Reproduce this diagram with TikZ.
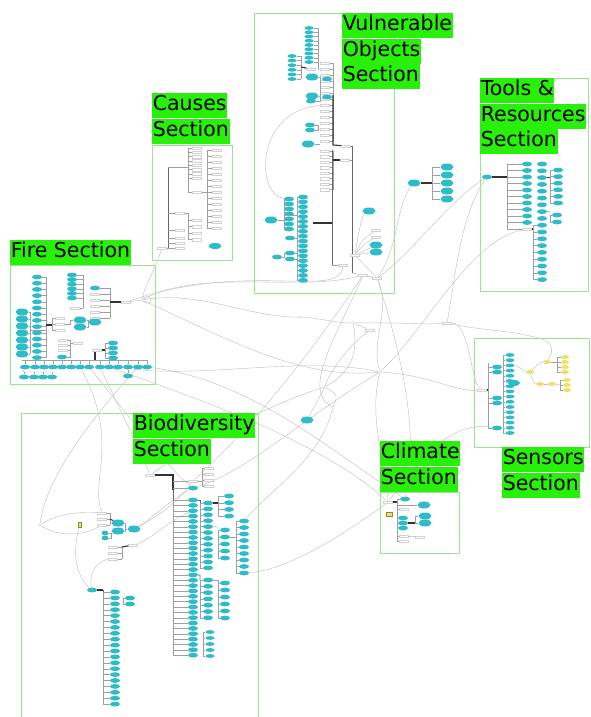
\documentclass[tikz,border=0pt]{standalone}
\usepackage{fontspec}
\setmainfont{DejaVu Sans}
\usetikzlibrary{shapes.geometric,backgrounds}
\definecolor{labg}{RGB}{40,240,10}
\definecolor{boxg}{RGB}{150,232,140}
\definecolor{tealc}{RGB}{45,188,200}
\definecolor{yelc}{RGB}{236,226,100}
\definecolor{curvc}{RGB}{195,195,195}
\tikzset{
 secbox/.style={draw=boxg, line width=0.9pt},
 lbl/.style={fill=labg, anchor=north west, inner xsep=0.6pt, inner ysep=0pt, text height=17.5pt, text depth=7.5pt, font=\fontsize{20.5}{25}\selectfont},
 leaf/.style={ellipse, fill=tealc, minimum width=10pt, minimum height=4.8pt, inner sep=0pt},
 tleaf/.style={leaf, minimum width=9pt, minimum height=3.8pt},
 bigleaf/.style={leaf, minimum width=13pt, minimum height=7pt},
 yleaf/.style={leaf, fill=yelc, minimum width=8pt, minimum height=4pt},
 sm/.style={rectangle, draw=gray!35, fill=white, line width=0.3pt, minimum width=9pt, minimum height=2.6pt, inner sep=0pt},
 hub/.style={circle, draw=gray!55, fill=white, line width=0.3pt, minimum size=3pt, inner sep=0pt},
 tr/.style={draw=gray!75, line width=0.35pt},
 trunk/.style={draw=black!80, line width=1.1pt},
 mtrunk/.style={draw=black!60, line width=0.7pt},
 cv/.style={draw=curvc, line width=0.45pt},
}
\newcommand\leafcol[7][leaf]{%
  \foreach \i in {1,...,#6}{%
    \node[#1] (#2\i) at (#3,{#4+(\i-1)*#5}) {};
    \draw[tr] (#2\i) -- (#7,{#4+(\i-1)*#5});
  }%
  \draw[tr] (#7,#4) -- (#7,{#4+(#6-1)*#5});
}
\begin{document}
\begin{tikzpicture}[x=1pt,y=-1pt]
\useasboundingbox (0,0) rectangle (590,717);
\begin{scope}[on background layer]
\fill[white] (0,0) rectangle (590,717);
\end{scope}

% ================= CAUSES =================
\node[sm] (cr) at (162,248) {};
\draw[tr] (cr) -- (168,248);
\draw[mtrunk] (168,167) -- (168,248);
\foreach \y [count=\k] in {213,230,238,243,248} {\node[sm] (ca\k) at (180,\y) {}; \draw[tr] (ca\k) -- (168,\y);}
\draw[tr] (168,167) -- (188,167);
\leafcol[sm]{cb}{197}{148}{4.3}{8}{188}
\node[sm] (cb9) at (197,192) {};
\draw[tr] (cb9) -- (188,192);
\draw[tr] (188,178) -- (188,192);
\draw[tr] (ca1) -- (188,213) -- (188,240);
\leafcol[sm]{cc}{197}{220}{6.5}{4}{188}
\leafcol[sm]{cd}{217}{150}{6}{14}{207}
\draw[tr] (cb9) -- (207,192);
\node[leaf, minimum width=13pt, minimum height=6pt] (ce) at (215,246) {};

% ================= VULNERABLE OBJECTS =================
\leafcol[tleaf]{va}{309}{28}{4.25}{9}{318}
\draw[tr] (318,62) -- (318,70);
\leafcol[tleaf]{vb}{292}{56}{4.6}{6}{301}
\node[sm] (vs0) at (311,69) {};
\draw[trunk] (301,67) -- (vs0);
\leafcol[sm]{vd}{325}{63}{6}{14}{333}
\node[bigleaf] (vc1) at (312,77) {};
\node[leaf] (vc2) at (327,79) {};
\node[bigleaf] (vc3) at (312,96) {};
\node[leaf] (vc4) at (311,101) {};
\node[leaf] (vc5) at (327,97) {};
\node[leaf] (vc6) at (310,125) {};
\node[leaf] (vc7) at (310,130) {};
\node[bigleaf] (vc8) at (308,144) {};
\draw[tr] (vc1) -- (320,77) -- (320,101) -- (vc4);
\draw[tr] (vc3) -- (320,96);
\draw[tr] (vc6) -- (318,125) -- (318,130) -- (vc7);
\draw[tr] (vc8) -- (320,144);
\node[sm] (vh1) at (346,146) {};
\draw[trunk] (333,95) -- (333,145) -- (vh1);
\draw[mtrunk] (vh1) -- (352,146) -- (352,273);
\leafcol[sm]{ve}{325}{151}{5.5}{8}{333}
\node[sm] (vh2) at (345,160) {};
\draw[trunk] (333,160) -- (vh2);
\draw[tr] (vh2) -- (352,160);
\leafcol{vf}{303}{197}{4.9}{18}{297}
\leafcol{vg}{289}{199}{5}{7}{284}
\draw[tr] (284,215) -- (297,215);
\node[bigleaf] (vg8) at (271,220) {};
\draw[tr] (vg8) -- (284,220);
\node[leaf] (vg9) at (290,238) {};
\node[leaf] (vg10) at (290,253) {};
\node[leaf] (vg11) at (290,259) {};
\node[leaf] (vg12) at (277,257) {};
\draw[tr] (vg9) -- (297,238); \draw[tr] (vg10) -- (297,253); \draw[tr] (vg11) -- (297,259);
\draw[tr] (vg12) -- (284,257) -- (284,253);
\draw[trunk] (313,223) -- (332,223);
\draw[mtrunk] (332,150) -- (332,265);
\node[bigleaf] (vr1) at (369,211) {};
\node[sm] (vr2) at (376,230) {};
\node[sm] (vr3) at (376,237) {};
\node[bigleaf] (vr4) at (376,245) {};
\node[bigleaf] (vr5) at (376,252) {};
\node[sm] (vh5) at (355,255) {};
\node[sm] (vh6) at (343,265) {};
\node[sm] (vh3) at (363,275) {};
\node[sm] (vh4) at (377,278) {};
\draw[tr] (332,265) -- (vh6);
\draw[tr] (352,273) -- (vh3);
\draw[tr] (vh3) -- (vh4);
\draw[cv] (vh5) .. controls (358,235) and (362,215) .. (vr1);
\draw[cv] (vh5) .. controls (362,240) .. (vr2);
\draw[cv] (vh5) .. controls (364,244) .. (vr3);
\draw[cv] (vh5) .. controls (366,250) .. (vr4);
\draw[cv] (vh5) -- (vr5);
\draw[cv] (vh5) -- (vh4);
\draw[cv] (vd8) .. controls (255,110) and (255,195) .. (vg1);

% ================= TOOLS & RESOURCES =================
\node[leaf] (tr0) at (487,177) {};
\draw[trunk] (tr0) -- (507,177);
\leafcol{ta}{527}{164}{6.5}{10}{507}
\node[sm] (ts) at (527,229) {};
\draw[tr] (ts) -- (507,229) -- (507,222.5);
\draw[trunk] (ts) -- (533,229);
\foreach \k in {1,...,9} {\node[leaf] (tbu\k) at (542,{164+(\k-1)*6.8}) {};}
\leafcol{tb}{542}{225.2}{6.8}{9}{533}
\leafcol{tc}{558}{170}{6.6}{6}{550}
\draw[trunk] (tbu3) -- (550,177.6);
\leafcol{td}{557}{215}{7}{2}{550}
\draw[tr] (tbu8) -- (550,211.6) -- (550,215);

% ================= FREE GROUP =================
\node[bigleaf] (fr0) at (414,183) {};
\draw[trunk] (fr0) -- (432,183);
\leafcol[bigleaf]{fg}{447}{167}{8}{5}{432}

% ================= FIRE =================
\leafcol{fa}{37}{277}{6.2}{14}{46}
\leafcol[bigleaf]{fb}{22}{312}{7}{7}{30}
\draw[tr] (30,330) -- (46,330);
\node[sm] (fs1) at (60,318) {};
\node[sm] (fs2) at (60,324) {};
\node[sm] (fs3) at (60,330) {};
\draw[trunk] (46,325) -- (52,325);
\draw[tr] (52,318) -- (52,330);
\draw[tr] (fs1) -- (52,318); \draw[tr] (fs2) -- (52,324); \draw[tr] (fs3) -- (52,330);
\leafcol{fc}{72}{275}{4.6}{6}{83}
\draw[tr] (83,298) -- (83,308);
\node[sm] (fc7) at (75,308) {};
\draw[tr] (fc7) -- (83,308);
\node[leaf] (fd0) at (95,288) {};
\draw[tr] (fd0) -- (110,288);
\leafcol[sm]{fd}{95}{294}{6}{5}{110}
\draw[tr] (110,288) -- (110,294);
\node[sm] (fh) at (126,302) {};
\draw[trunk] (110,302) -- (fh);
\node[hub] (fhub) at (142,300) {};
\draw[cv] (fh) -- (fhub);
\draw[cv] (fhub) .. controls (152,290) and (154,310) .. (fhub);
\node[bigleaf] (fe1) at (80,320) {};
\node[bigleaf] (fe2) at (80,327) {};
\node[bigleaf] (fe3) at (95,322) {};
\draw[tr] (fe1) -- (88,320) -- (88,327) -- (fe2);
\draw[tr] (88,322) -- (fe3);
\draw[tr] (fs2) -- (70,324) -- (70,320) -- (fe1);
\node[sm] (fm1) at (63,340) {};
\node[sm] (fm2) at (63,345) {};
\node[sm] (fm3) at (63,350) {};
\node[leaf] (fm4) at (62,357) {};
\node[sm] (fm5) at (78,343) {};
\draw[tr] (fm1) -- (70,340) -- (70,357) -- (fm4);
\draw[tr] (fm2) -- (70,345); \draw[tr] (fm3) -- (70,350);
\draw[tr] (70,343) -- (fm5);
\leafcol{ff}{113}{343}{5}{4}{105}
\node[sm] (fg1) at (97,350) {};
\draw[trunk] (fg1) -- (105,350);
\draw[tr] (22,360) -- (147,360);
\draw[trunk] (95,352) -- (95,360);
\foreach \x [count=\k] in {25,35,44,53,62,71,80,89,100,109,118,128,138,147} {\node[leaf] (fl\k) at (\x,367) {}; \draw[tr] (fl\k) -- (\x,360);}
\draw[tr] (fl1) -- (23,372) -- (52,372);
\foreach \x [count=\k] in {24,34,43,52} {\node[leaf] (fk\k) at (\x,377) {}; \draw[tr] (fk\k) -- (\x,372);}
\node[leaf] (fk5) at (128,376) {};
\draw[tr] (fl12) -- (fk5);

% ================= SENSORS =================
\node[sm] (sh) at (482,390) {};
\draw[trunk] (sh) -- (488,390);
\draw[tr] (488,363) -- (488,428);
\foreach \y [count=\k] in {367,372,398,403,428} {\node[leaf] (sb\k) at (497,\y) {}; \draw[tr] (sb\k) -- (488,\y);}
\leafcol[tleaf]{sa}{510}{355}{5.2}{16}{503}
\node[leaf, minimum width=12pt, minimum height=6pt] (sbig) at (514,383) {};
\node[yleaf] (sy1) at (530,372) {};
\node[yleaf] (sy2) at (547,362) {};
\node[yleaf] (sy3) at (540,384) {};
\node[yleaf] (sy4) at (552,384) {};
\leafcol[yleaf]{ya}{565}{357}{5}{4}{557}
\draw[tr] (sy2) -- (557,362);
\leafcol[yleaf]{yb}{567}{380}{5}{3}{560}
\draw[tr] (sy4) -- (560,385);
\draw[cv] (sa3) .. controls (520,366) and (524,372) .. (sy1);
\draw[cv] (sy1) .. controls (536,366) and (540,362) .. (sy2);
\draw[cv] (sy1) .. controls (532,380) and (535,384) .. (sy3);
\draw[cv] (sy3) -- (sy4);

% ================= CLIMATE =================
\node[sm] (ch) at (388,502) {};
\node[rectangle, fill=yelc, draw=yelc!60!black, line width=0.2pt, minimum width=6pt, minimum height=4pt, inner sep=0pt] (cy) at (389,514) {};
\draw[trunk] (ch) -- (397,502);
\draw[tr] (397,499) -- (397,541);
\node[leaf] (cl1) at (405,499) {};
\draw[tr] (cl1) -- (397,499);
\node[bigleaf] (cl2) at (424,505) {};
\draw[tr] (397,505) -- (cl2);
\leafcol{cm}{403}{518}{5}{3}{397}
\node[bigleaf] (cl3) at (425,516) {};
\node[bigleaf] (cl4) at (425,523) {};
\draw[trunk] (cm2) -- (415,523);
\draw[tr] (415,516) -- (415,523);
\draw[tr] (415,516) -- (cl3); \draw[tr] (415,523) -- (cl4);
\node[sm] (cs1) at (404,509) {};
\node[sm] (cs2) at (404,536) {};
\node[sm] (cs3) at (404,541) {};
\node[sm] (cs4) at (420,537) {};
\draw[tr] (cs1) -- (397,509); \draw[tr] (cs2) -- (397,536); \draw[tr] (cs3) -- (397,541);
\draw[tr] (cs2) -- (cs4);

% ================= BIODIVERSITY =================
\node[sm] (bh) at (150,475) {};
\draw[trunk] (bh) -- (173,475) -- (173,490);
\draw[mtrunk] (173,490) -- (173,655);
\node[sm] (bs0) at (193,481) {};
\draw[tr] (bs0) -- (173,481);
\node[leaf] (bl0) at (193,488) {};
\draw[tr] (bl0) -- (173,488);
\leafcol{ba}{193}{500}{5.35}{30}{173}
\leafcol[sm]{bb}{209}{468}{6}{4}{202}
\draw[tr] (bs0) -- (202,481);
\leafcol{bc}{208}{503}{5.9}{12}{200}
\draw[mtrunk] (ba1) -- (200,500) -- (200,503);
\leafcol{bd}{208}{580}{6.3}{7}{200}
\draw[mtrunk] (ba15) -- (200,575) -- (200,580);
\leafcol{be}{229}{496}{6.7}{4}{218}
\draw[trunk] (bc1) -- (218,503);
\leafcol{bf}{225}{530}{7}{5}{218}
\draw[tr] (bc5) -- (218,527) -- (218,530);
\leafcol{bg}{244}{521}{6.5}{9}{236}
\draw[tr] (bf2) -- (236,537);
\leafcol{bi}{225}{583}{7}{6}{218}
\draw[tr] (bd1) -- (218,580) -- (218,583);
\leafcol[tleaf]{bj}{210}{632}{6}{5}{203}
\draw[tr] (ba26) -- (203,634);
\node[leaf] (bk0) at (92,590) {};
\draw[trunk] (bk0) -- (103,590);
\draw[mtrunk] (103,590) -- (103,704);
\leafcol{bk}{115}{592}{5.9}{20}{103}
\leafcol{bm}{130}{598}{6}{2}{123}
\node[hub] (bq) at (40,525) {};
\node[rectangle, fill=yelc, draw=yelc!60!black, line width=0.2pt, minimum width=3pt, minimum height=5pt, inner sep=0pt] (by) at (80,525) {};
\leafcol[sm]{br}{102}{513}{6}{3}{110}
\node[bigleaf] (bt1) at (118,523) {};
\node[bigleaf] (bt2) at (118,531) {};
\node[bigleaf] (bt3) at (134,529) {};
\node[leaf, minimum width=7pt] (bt4) at (105,533) {};
\node[leaf, minimum width=7pt] (bt5) at (105,538) {};
\draw[trunk] (110,519) -- (bt1);
\draw[tr] (bt1) -- (125,523) -- (125,531) -- (bt2);
\draw[tr] (125,529) -- (bt3);
\draw[tr] (bt4) -- (111,533) -- (111,538) -- (bt5);
\leafcol[sm]{bv}{113}{547}{6}{3}{122}
\node[sm] (bu) at (133,545) {};
\draw[trunk] (122,547) -- (bu);

% ================= FREE HUBS =================
\node[leaf, minimum width=13pt, minimum height=7pt] (fr1) at (307,420) {};
\node[hub] (h1) at (300,317) {};
\node[hub] (h2) at (353,323) {};
\node[sm] (h3) at (447,323) {};
\node[hub] (h4) at (380,372) {};
\node[hub] (h5) at (325,387) {};
\node[hub] (h6) at (333,407) {};
\node[sm] (h7) at (370,330) {};

% ================= SECTION BOXES =================
\draw[secbox] (152,145) rectangle (232,260);
\draw[secbox] (254,13) rectangle (394,293);
\draw[secbox] (480,78) rectangle (588,291);
\draw[secbox] (10,265) rectangle (155,384);
\draw[secbox] (474,338) rectangle (589,447);
\draw[secbox] (380,492) rectangle (459,553);
\draw[secbox] (21,717) -- (21,413) -- (258,413) -- (258,717);

% ================= CURVES (background) =================
\begin{scope}[on background layer]
\draw[cv] (fhub) .. controls (200,290) and (250,318) .. (h1);
\draw[cv] (h1) .. controls (320,318) and (335,323) .. (h2);
\draw[cv] (h2) .. controls (400,322) and (420,325) .. (h3);
\draw[cv] (h2) -- (h7);
\draw[cv] (h3) .. controls (470,323) and (470,380) .. (sh);
\draw[cv] (vh4) .. controls (392,310) and (370,340) .. (h4);
\draw[cv] (vh4) .. controls (398,250) and (396,205) .. (fr0);
\draw[cv] (tr0) .. controls (460,215) and (455,280) .. (h3);
\draw[cv] (tr0) .. controls (450,200) and (410,255) .. (vh4);
\draw[cv] (h4) .. controls (430,375) and (455,392) .. (sh);
\draw[cv] (h4) .. controls (368,420) and (386,460) .. (ch);
\draw[cv] (h4) .. controls (425,330) and (470,240) .. (ts);
\draw[cv] (cr) .. controls (155,270) and (145,285) .. (fhub);
\draw[cv] (h5) -- (fr1);
\draw[cv] (h5) .. controls (338,395) .. (h6);
\draw[cv] (bh) .. controls (200,440) and (280,400) .. (h5);
\draw[cv] (vh3) .. controls (320,340) and (260,420) .. (bs0);
\draw[cv] (fhub) .. controls (230,340) and (300,380) .. (h4);
\draw[cv] (fl9) .. controls (125,420) and (140,450) .. (bh);
\draw[cv] (fl10) .. controls (200,400) and (320,440) .. (ch);
\draw[cv] (fl11) .. controls (200,380) and (300,355) .. (h4);
\draw[cv] (fl8) .. controls (140,430) and (170,470) .. (bl0);
\draw[cv] (bq) .. controls (45,480) and (90,420) .. (fl13);
\draw[cv] (bq) .. controls (60,512) and (85,512) .. (br1);
\draw[cv] (bq) .. controls (60,538) and (85,535) .. (br3);
\draw[cv] (h4) .. controls (300,420) and (250,470) .. (bl0);
\draw[cv] (ch) .. controls (350,530) and (290,570) .. (bg9);
\draw[cv] (fhub) .. controls (200,268) and (300,292) .. (vh3);
\draw[cv] (h2) .. controls (360,360) and (345,375) .. (h5);
\draw[cv] (fl14) .. controls (250,380) and (330,450) .. (cl1);
\draw[cv] (vh3) .. controls (340,330) and (300,390) .. (h6);
\draw[cv] (bl0) .. controls (170,500) and (150,520) .. (bt3);
\draw[cv] (ba3) .. controls (170,520) and (150,540) .. (bu);
\draw[cv] (bk0) .. controls (88,570) and (100,560) .. (bv3);
\draw[cv] (h6) .. controls (320,460) and (270,490) .. (bg1);
\draw[cv] (vh4) .. controls (400,350) and (420,430) .. (cl1);
\draw[cv] (ch) .. controls (420,460) and (450,420) .. (sb5);
\draw[cv] (h3) .. controls (480,330) and (500,330) .. (520,334) .. controls (540,338) and (560,340) .. (sy2);
\draw[cv] (fl7) .. controls (120,440) and (90,480) .. (br1);
\draw[cv] (fh) .. controls (250,260) and (340,300) .. (vh6);
\draw[cv] (h7) .. controls (350,345) and (330,370) .. (h5);
\draw[cv] (by) .. controls (70,560) and (80,580) .. (bk0);
\draw[cv] (bt3) .. controls (160,515) and (175,505) .. (bs0);
\end{scope}

% ================= LABELS =================
\node[lbl] (lc1) at (152,93) {Causes};
\node[lbl] (lc2) at (152,118.5) {Section};
\node[lbl] (lv1) at (342,13) {Vulnerable};
\node[lbl] (lv2) at (342,38.5) {Objects};
\node[lbl] (lv3) at (342,64) {Section};
\node[lbl] (lt1) at (480,78) {Tools \&};
\node[lbl] (lt2) at (480,103.5) {Resources};
\node[lbl] (lt3) at (480,129) {Section};
\node[lbl] (lf1) at (10,240) {Fire Section};
\node[lbl] (ls1) at (502,447) {Sensors};
\node[lbl] (ls2) at (502,472.5) {Section};
\node[lbl] (lk1) at (380,441) {Climate};
\node[lbl] (lk2) at (380,466.5) {Section};
\node[lbl] (lb1) at (133,413) {Biodiversity};
\node[lbl] (lb2) at (133,438.5) {Section};
\end{tikzpicture}
\end{document}
